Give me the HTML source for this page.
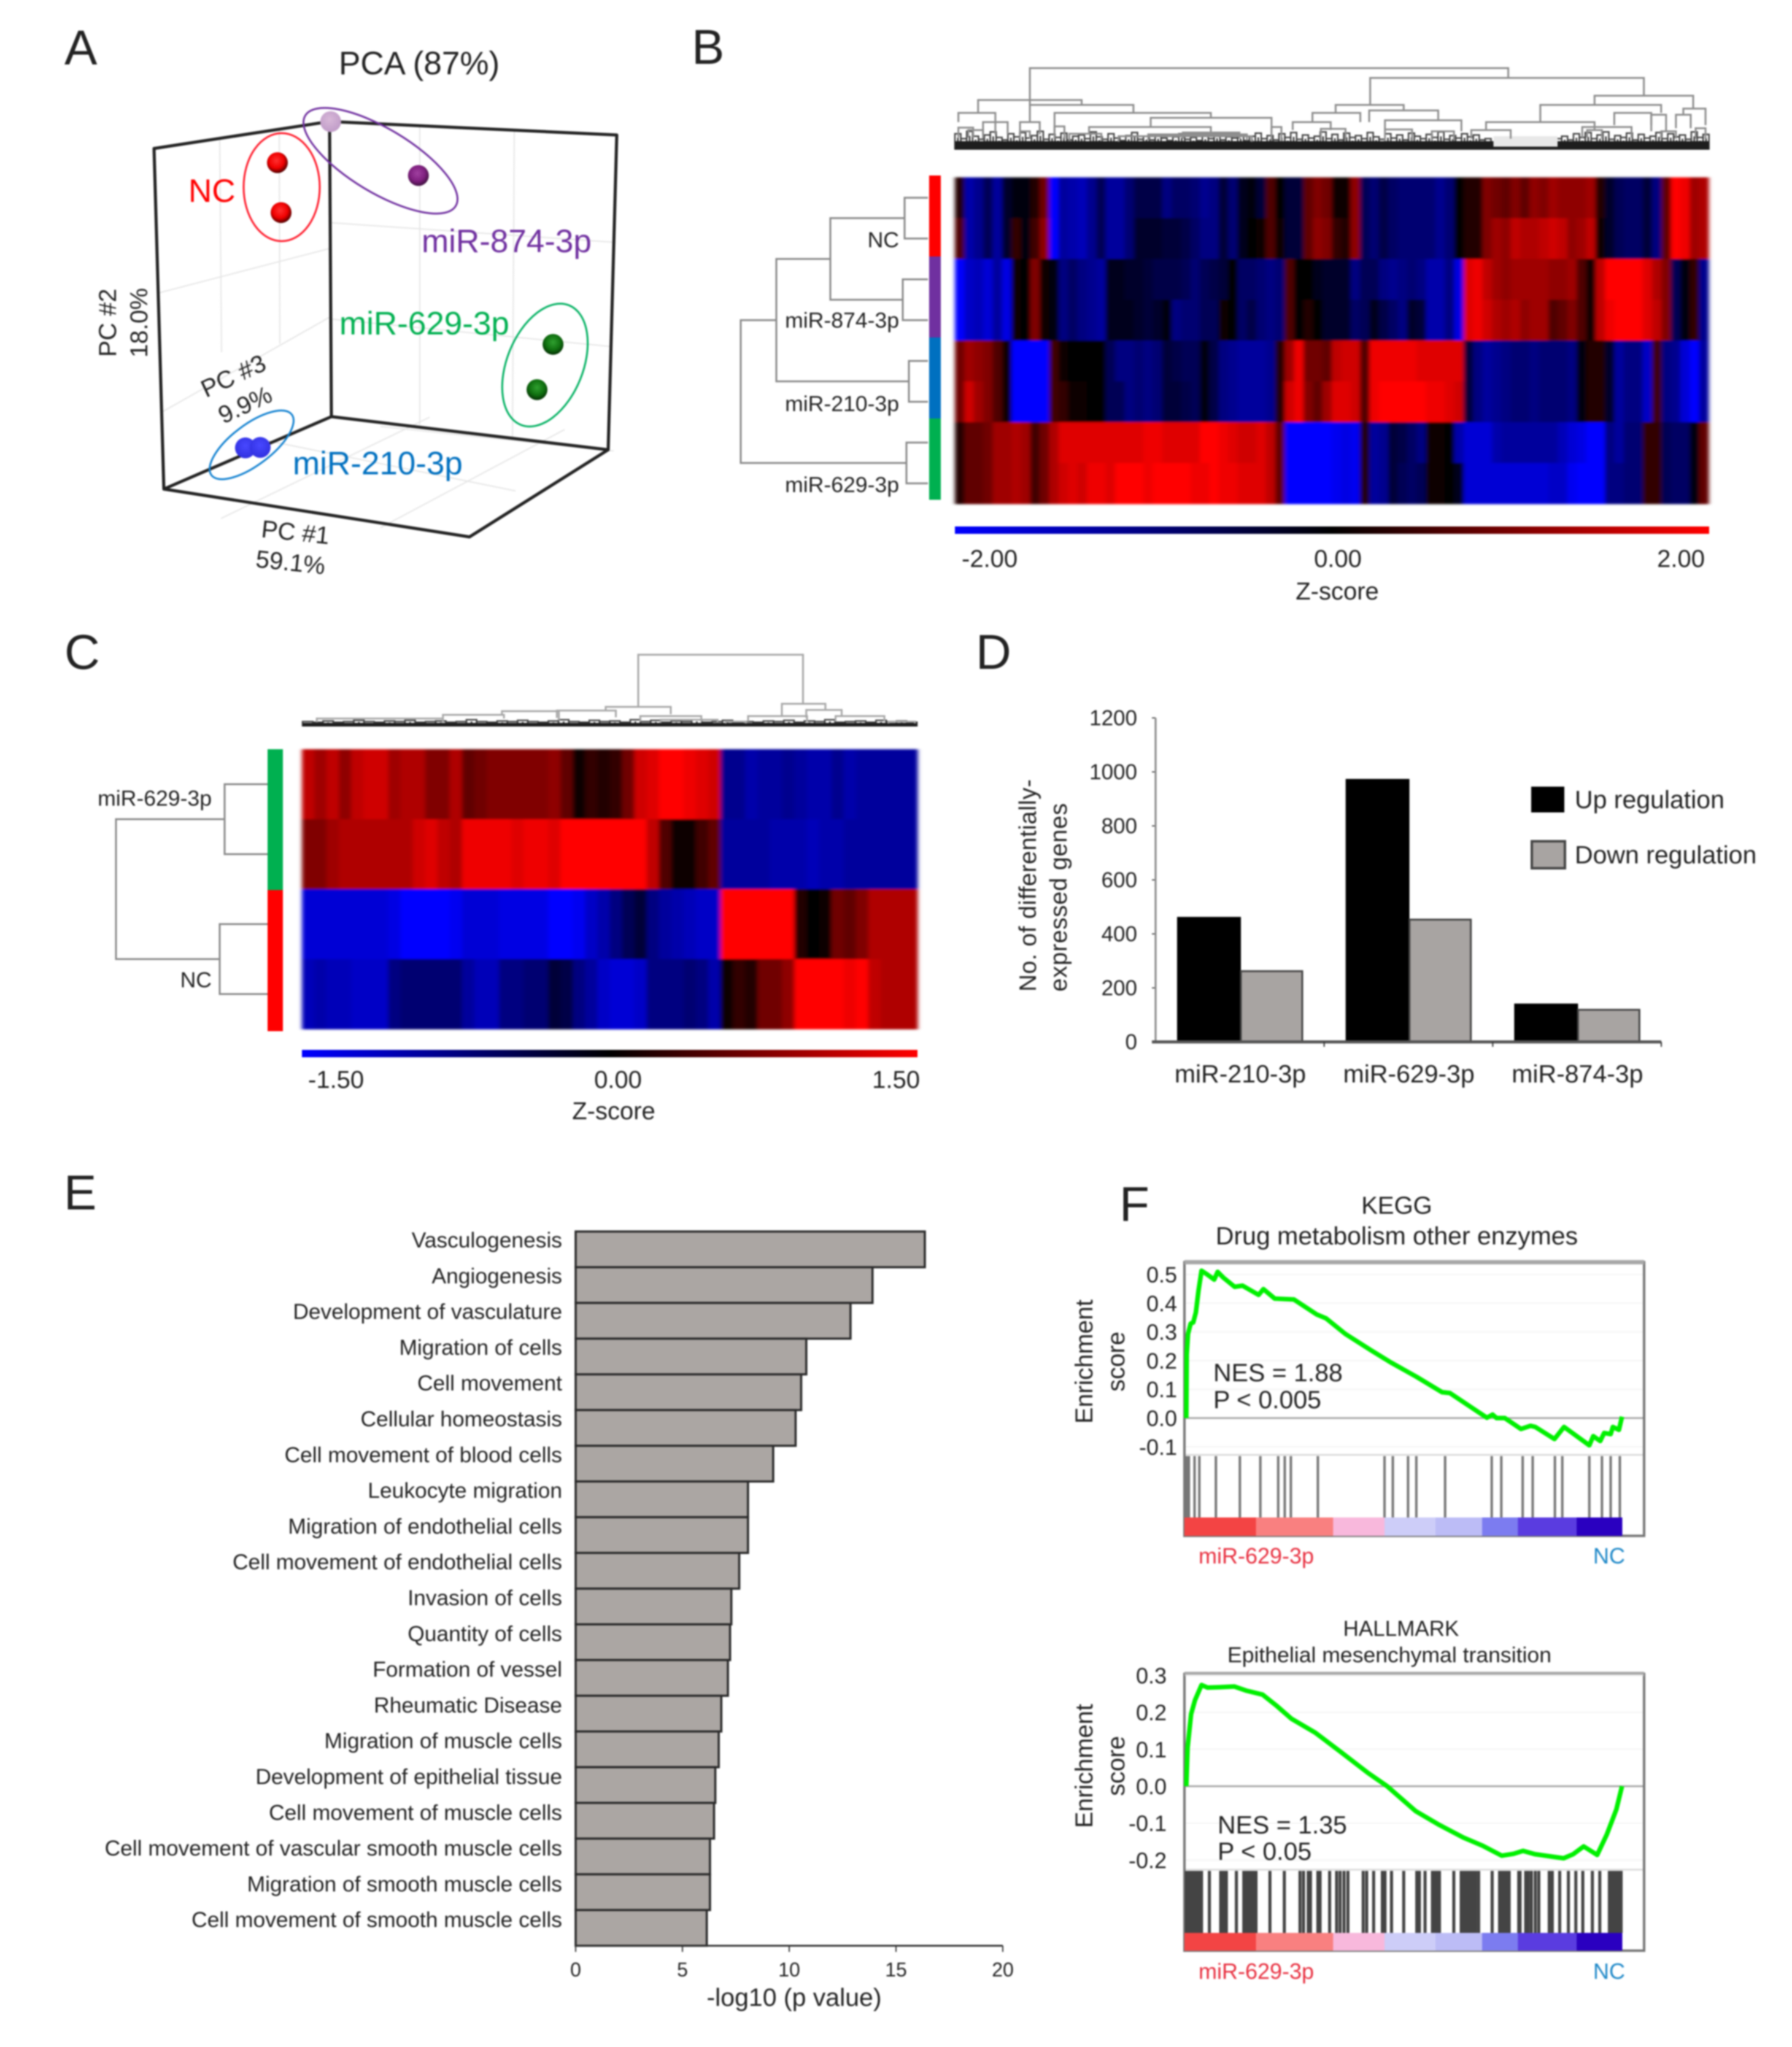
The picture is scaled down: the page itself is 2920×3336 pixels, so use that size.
<!DOCTYPE html>
<html lang="en">
<head>
<meta charset="utf-8">
<title>Multi-panel miRNA figure</title>
<style>
html,body{margin:0;padding:0;background:#fff}
#fig{display:block;filter:blur(1.4px)}
text{font-family:"Liberation Sans",Arial,sans-serif;fill:#222}
</style>
</head>
<body>
<svg id="fig" xmlns="http://www.w3.org/2000/svg" width="2920" height="3336" viewBox="0 0 2920 3336">
<defs>
<radialGradient id="s-red" cx="45%" cy="40%" r="60%"><stop offset="0" stop-color="#ff3030"/><stop offset=".6" stop-color="#f00000"/><stop offset="1" stop-color="#500000"/></radialGradient>
<radialGradient id="s-purple" cx="45%" cy="40%" r="60%"><stop offset="0" stop-color="#a040a0"/><stop offset=".6" stop-color="#802080"/><stop offset="1" stop-color="#401040"/></radialGradient>
<radialGradient id="s-lilac" cx="45%" cy="40%" r="60%"><stop offset="0" stop-color="#d8b8d8"/><stop offset="1" stop-color="#c09cc8"/></radialGradient>
<radialGradient id="s-green" cx="50%" cy="40%" r="60%"><stop offset="0" stop-color="#30a030"/><stop offset=".6" stop-color="#107010"/><stop offset="1" stop-color="#053005"/></radialGradient>
<radialGradient id="s-blue" cx="50%" cy="40%" r="60%"><stop offset="0" stop-color="#4848ff"/><stop offset="1" stop-color="#3030e0"/></radialGradient>
<linearGradient id="zbar"><stop offset="0" stop-color="#0000ff"/><stop offset=".5" stop-color="#000"/><stop offset="1" stop-color="#ff0000"/></linearGradient>
<filter id="heat-soften" x="-1%" y="-1%" width="102%" height="102%"><feGaussianBlur stdDeviation="3.5 1.5"/></filter>
</defs>

<!-- Panel letters -->
<text x="105" y="105" font-size="80">A</text>
<text x="1127" y="104" font-size="80">B</text>
<text x="105" y="1090" font-size="80">C</text>
<text x="1590" y="1090" font-size="80">D</text>
<text x="104" y="1971" font-size="80">E</text>
<text x="1824" y="1990" font-size="80">F</text>

<!-- Panel A frame -->
<g id="panel-a">
<g stroke="#e6e6e6" stroke-width="2" fill="none">
<path d="M358 224L361 574M455 208L456 560M260 477L537 405M263 672L537 517"/>
<path d="M684 206L684 692M838 212L835 715M540 363L1003 395M540 520L998 565"/>
<path d="M420 715L840 800M620 695L1000 735M360 845L700 680M620 860L920 700"/>
</g>
<g stroke="#222" stroke-width="5" fill="none" stroke-linejoin="round">
<path d="M251 242L537 198L1005 220L991 733L765 875L267 797Z"/>
<path d="M537 198L540 679L267 797M540 679L991 733"/>
</g>
<ellipse cx="459" cy="305" rx="62" ry="88" fill="none" stroke="#ff1a2a" stroke-width="3"/>
<ellipse cx="620" cy="262" rx="143" ry="52" transform="rotate(31 620 262)" fill="none" stroke="#7030a0" stroke-width="3"/>
<ellipse cx="888" cy="595" rx="62" ry="105" transform="rotate(22 888 595)" fill="none" stroke="#00b060" stroke-width="3"/>
<ellipse cx="410" cy="725" rx="82" ry="33" transform="rotate(-37 410 725)" fill="none" stroke="#1080d0" stroke-width="3"/>
<g id="pca-points"></g>
<text x="552" y="121" font-size="53">PCA (87%)</text>
<text x="307" y="329" font-size="53" style="fill:#ff0000">NC</text>
<text x="687" y="411" font-size="53" style="fill:#7030a0">miR-874-3p</text>
<text x="553" y="545" font-size="53" style="fill:#00b050">miR-629-3p</text>
<text x="477" y="773" font-size="53" style="fill:#0070c0">miR-210-3p</text>
<text transform="translate(189 526) rotate(-90)" text-anchor="middle" font-size="40">PC #2</text>
<text transform="translate(240 526) rotate(-90)" text-anchor="middle" font-size="40">18.0%</text>
<text transform="translate(386 625) rotate(-25)" text-anchor="middle" font-size="40">PC #3</text>
<text transform="translate(405 672) rotate(-25)" text-anchor="middle" font-size="40">9.9%</text>
<text transform="translate(480 881) rotate(6)" text-anchor="middle" font-size="40">PC #1</text>
<text transform="translate(472 930) rotate(6)" text-anchor="middle" font-size="40">59.1%</text>
</g>

<!-- Panel B -->
<g id="panel-b">
<g id="b-dendro-top"></g>
<g id="b-dendro-left"></g>
<g id="b-side"></g>
<g id="b-cells" filter="url(#heat-soften)"></g>
<text x="1465" y="403" text-anchor="end" font-size="35.6">NC</text>
<text x="1465" y="534" text-anchor="end" font-size="35.6">miR-874-3p</text>
<text x="1465" y="670" text-anchor="end" font-size="35.6">miR-210-3p</text>
<text x="1465" y="802" text-anchor="end" font-size="35.6">miR-629-3p</text>
<rect x="1556" y="858" width="1229" height="12" fill="url(#zbar)"/>
<text x="1567" y="924" font-size="40">-2.00</text>
<text x="2180" y="924" text-anchor="middle" font-size="40">0.00</text>
<text x="2778" y="924" text-anchor="end" font-size="40">2.00</text>
<text x="2179" y="977" text-anchor="middle" font-size="40">Z-score</text>
</g>

<!-- Panel C -->
<g id="panel-c">
<g id="c-dendro-top"></g>
<g id="c-dendro-left"></g>
<g id="c-side"></g>
<g id="c-cells" filter="url(#heat-soften)"></g>
<text x="345" y="1313" text-anchor="end" font-size="35.6">miR-629-3p</text>
<text x="345" y="1609" text-anchor="end" font-size="35.6">NC</text>
<rect x="492" y="1711" width="1003" height="12" fill="url(#zbar)"/>
<text x="502" y="1773" font-size="40">-1.50</text>
<text x="1007" y="1773" text-anchor="middle" font-size="40">0.00</text>
<text x="1499" y="1773" text-anchor="end" font-size="40">1.50</text>
<text x="1000" y="1824" text-anchor="middle" font-size="40">Z-score</text>
</g>

<!-- Panel D -->
<g id="panel-d">
<g id="d-plot"></g>
<text transform="translate(1688 1616) rotate(-90)" font-size="39" textLength="346" lengthAdjust="spacing">No. of differentially-</text>
<text transform="translate(1738 1616) rotate(-90)" font-size="39" textLength="307" lengthAdjust="spacing">expressed genes</text>
<rect x="2495" y="1282" width="54" height="42" fill="#000"/>
<text x="2566" y="1317" font-size="41">Up regulation</text>
<rect x="2496" y="1371" width="54" height="44" fill="#a8a4a2" stroke="#444" stroke-width="4"/>
<text x="2566" y="1407" font-size="41">Down regulation</text>
</g>

<!-- Panel E -->
<g id="panel-e">
<g id="e-plot"></g>
<text x="1294" y="3269" text-anchor="middle" font-size="41" textLength="285" lengthAdjust="spacing">-log10 (p value)</text>
</g>

<!-- Panel F -->
<g id="panel-f1">
<text x="2276" y="1978" text-anchor="middle" font-size="40">KEGG</text>
<text x="2276" y="2028" text-anchor="middle" font-size="41">Drug metabolism other enzymes</text>
<g id="f1-plot"></g>
<text transform="translate(1780 2219) rotate(-90)" text-anchor="middle" font-size="40">Enrichment</text>
<text transform="translate(1832 2219) rotate(-90)" text-anchor="middle" font-size="40">score</text>
<text x="1977" y="2251" font-size="41">NES = 1.88</text>
<text x="1977" y="2295" font-size="41">P &lt; 0.005</text>
<text x="1953" y="2548" font-size="36" style="fill:#e83040">miR-629-3p</text>
<text x="2596" y="2548" font-size="36" style="fill:#1e88c8">NC</text>
</g>
<g id="panel-f2">
<text x="2283" y="2666" text-anchor="middle" font-size="35">HALLMARK</text>
<text x="2264" y="2709" text-anchor="middle" font-size="35.6">Epithelial mesenchymal transition</text>
<g id="f2-plot"></g>
<text transform="translate(1780 2878) rotate(-90)" text-anchor="middle" font-size="40">Enrichment</text>
<text transform="translate(1832 2878) rotate(-90)" text-anchor="middle" font-size="40">score</text>
<text x="1984" y="2988" font-size="41">NES = 1.35</text>
<text x="1984" y="3031" font-size="41">P &lt; 0.05</text>
<text x="1953" y="3225" font-size="36" style="fill:#e83040">miR-629-3p</text>
<text x="2596" y="3225" font-size="36" style="fill:#1e88c8">NC</text>
</g>
</svg>

<script>
/* ---------- Panel A data: principal components (fraction of axis) ---------- */
const pcaPc1 = [0.004, 0.32, 0, 0, 0.803, 0.744, 0, 0];
const pcaPc2 = [1.0, 0.853, 0.937, 0.763, 0.335, 0.175, 0.02, 0];
const pcaPc3 = [0, 0, 0.312, 0.292, 0, 0, 0.513, 0.425];
const pcaFill = ['s-lilac', 's-purple', 's-red', 's-red', 's-green', 's-green', 's-blue', 's-blue'];

/* ---------- Panel B data: expression per column, ±20 = colour-bar end ---------- */
const heatBNc1 = [2,-12,-10,-6,-11,-3,-1,-1,2,7,-18,-11,-12,-13,-10,-6,-11,-11,-8,-5,-5,-5,-9,-7,-7,-8,-10,-9,-4,-8,-2,-1,-4,5,0,-4,-4,6,8,7,1,1,9,-6,-8,-5,-7,-8,-8,-8,-8,-10,-8,0,2,2,8,7,6,8,6,9,8,10,9,9,9,10,2,-3,-6,-7,-7,-4,-9,6,17,15,10,11];
const heatBNc2 = [5,-12,-10,-6,-11,-3,3,-1,4,9,-18,-11,-12,-13,-10,-6,-11,-11,-8,-3,-3,-3,-4,-4,-5,-7,-9,-9,-4,-8,-2,0,1,5,1,-4,-4,6,9,8,3,2,9,-6,-8,-5,-7,-8,-8,-8,-8,-10,-8,0,2,2,8,10,9,12,11,11,12,13,12,9,10,12,1,-3,-6,-7,-7,-4,-9,6,17,15,10,11];
const heatB8741 = [-20,-14,-13,-15,-11,-16,1,0,8,1,-1,-9,-7,-9,-10,-11,-2,-2,-3,-3,-4,-5,-5,-5,-6,-8,-6,-5,-4,0,-7,-7,-8,-9,-8,5,0,0,-2,-3,-3,-3,-9,-6,-6,-9,-10,-9,-8,-9,-12,-12,-9,-16,14,15,12,10,9,10,10,10,10,9,9,10,5,1,12,16,16,17,18,14,11,8,-6,-1,3,-10];
const heatB8742 = [-20,-14,-13,-15,-11,-16,1,0,8,1,-1,-9,-7,-9,-10,-11,-2,-2,-2,-3,-4,-3,-1,-9,-8,-8,-6,-6,1,0,-7,-5,-8,-9,-8,5,0,2,0,-3,-3,-3,-7,-6,-2,-5,-7,-9,-3,-4,-12,-12,-9,-16,14,15,13,11,10,11,9,10,10,5,6,8,5,1,12,15,16,19,17,14,12,8,-6,-1,3,-10];
const heatB2101 = [7,10,9,8,5,1,-19,-20,-20,-20,4,1,0,0,0,0,-6,-9,-9,-8,-9,-8,-4,-5,-6,-6,-1,-5,-9,-10,-11,-11,-11,-10,2,10,15,7,7,6,12,13,13,5,15,15,15,15,15,14,14,14,14,14,-4,-9,-11,-10,-9,-8,-8,-9,-8,-8,-8,-9,-1,2,2,-3,-11,-9,-9,-14,4,-9,-10,-15,-19,-11];
const heatB2102 = [7,13,10,8,5,1,-19,-20,-20,-20,4,3,1,1,0,0,-6,-6,-9,-8,-9,-8,-4,-4,-5,-6,-1,-5,-9,-10,-11,-11,-11,-10,2,13,15,8,6,10,14,14,13,5,15,18,16,16,17,17,15,15,14,13,-4,-9,-11,-10,-9,-8,-8,-9,-8,-8,-8,-9,-1,2,2,-3,-11,-9,-9,-14,4,-9,-10,-15,-19,-11];
const heatB6291 = [2,6,6,7,10,10,11,10,4,7,11,14,14,14,14,14,14,14,14,14,15,15,14,14,14,14,16,18,15,14,13,13,14,12,6,-20,-20,-19,-19,-19,-17,-16,-17,2,-11,-10,-4,-5,-7,-9,1,1,0,-12,-15,-15,-15,-12,-11,-11,-11,-11,-11,-11,-13,-15,-16,-18,-20,-9,-11,-8,-8,3,3,-6,-7,-7,-1,6];
const heatB6292 = [2,6,6,7,10,10,11,10,4,7,11,13,14,13,15,15,14,16,18,16,15,17,18,18,19,15,15,17,15,15,14,14,14,12,6,-20,-20,-19,-19,-19,-17,-16,-17,2,-11,-10,-4,-6,-7,-6,1,1,0,-2,-15,-15,-15,-15,-15,-15,-15,-15,-15,-14,-14,-17,-18,-18,-18,-9,-9,-8,-8,3,3,-6,-7,-7,-1,6];
const heatBRows = [heatBNc1, heatBNc2, heatB8741, heatB8742, heatB2101, heatB2102, heatB6291, heatB6292];
const sideBColors = ['#ff0000', '#7030a0', '#0070c0', '#00b050'];

/* merges: [left node, right node, distance]; nodes 0-7 are rows, 8+ are earlier merges */
const rowMergesB = [[0,1,38],[2,3,41],[4,5,31],[6,7,35],[8,9,159],[12,10,247],[13,11,305]];

/* column dendrogram links: [left leaf, right leaf, height, left arm end, right arm end] */
const colLinksB = [[152,1122,133,73,117],[842,1397,117,73,88],[47,257,81,60,73],[152,362,73,45,60],[202,519,60,27,52],[397,642,52,37,20],[272,519,37,25,28],[7,82,60,45,25],[57,107,45,25,25],[132,172,45,25,25],[772,910,73,60,64],[725,822,60,45,45],[840,980,64,45,48],[685,762,45,32,32],[872,1027,48,33,30],[1187,1432,73,45,60],[1297,1497,88,73,67],[1077,1297,45,32,33],[1337,1412,60,40,40],[1477,1522,67,57,40],[1462,1492,57,35,35],[1047,1127,32,18,18],[1272,1372,37,20,20],[1412,1442,57,30,30],[462,577,28,18,18],[392,592,25,15,15],[332,602,22,13,13],[232,297,26,14,14],[742,792,34,15,15],[872,927,33,14,14],[967,1012,30,14,14],[642,662,37,14,14],[7,37,36,20,20],[27,57,32,20,18],[132,152,30,18,18],[202,222,38,18,18],[1282,1312,32,20,18],[1432,1462,30,18,18],[1502,1522,35,18,18]];
const leafHeightsB = [26,18,30,22,17,24,29,20,16,26,21,28,19,23,30,17,25,20,27,16,22,24,18,29,21,17,26,19,15,23,28,17,22,16,24,19,15,21,26,17,20,15,23,18,25,16,21,19,24,15,22,27,18,23,16,26,20,28,17,24,19,22,29,18,25,16,27,20,23,18,28,21,17,26,19,24,16,27,22,18,25,20,29,17,23,19,26,21,24,16,18,10,9,9,8,8,10,9,8,9,12,14,18,22,16,26,20,28,18,24,29,17,23,20,27,16,25,19,22,28,18,26,21,24,17,29,20,25];
const leafHoleB = [1092, 1222];

/* ---------- Panel C data ---------- */
const heatCMir1 = [12,10,12,9,12,13,13,10,11,11,8,8,11,6,7,8,8,8,8,8,9,6,1,3,2,3,7,13,14,19,20,15,14,13,-10,-10,-12,-11,-11,-10,-11,-12,-12,-10,-12,-11,-11,-11,-11,-11];
const heatCMir2 = [8,8,10,11,11,11,11,11,11,13,14,12,11,15,15,15,15,14,15,15,14,19,20,19,18,18,18,16,12,5,1,1,4,6,-11,-11,-11,-11,-12,-12,-12,-13,-12,-12,-11,-11,-11,-11,-11,-11];
const heatCNc1 = [-15,-15,-15,-15,-15,-15,-15,-16,-18,-18,-19,-18,-17,-15,-15,-15,-16,-16,-16,-16,-19,-20,-17,-14,-12,-9,-6,-4,-9,-11,-12,-13,-14,-14,20,20,20,18,18,17,2,0,1,7,6,8,11,11,11,11];
const heatCNc2 = [-13,-12,-13,-13,-14,-14,-14,-9,-8,-8,-8,-8,-8,-11,-13,-13,-9,-9,-8,-8,-4,-5,-9,-11,-14,-15,-15,-14,-9,-9,-9,-8,-9,-12,1,3,2,7,7,9,18,20,20,18,15,16,12,11,11,11];
const heatCRows = [heatCMir1, heatCMir2, heatCNc1, heatCNc2];
const sideCColors = ['#00b050', '#ff0000'];
const rowMergesC = [[0,1,70],[2,3,78],[4,5,247]];
const colLinksC = [[825,1230,117,32,37],[745,905,32,26,20],[625,770,26,14,15],[490,630,25,19,10],[345,495,19,13,13],[35,345,13,7,7],[1178,1285,37,17,27],[1095,1240,17,8,8],[1238,1325,27,14,17],[1310,1430,17,8,8],[830,980,17,8,8],[880,1020,11,6,6],[1040,1090,8,5,5],[1440,1505,8,5,5]];
const leafHeightsC = [8,7,9,7,8,10,8,7,9,8,10,7,8,9,7,8,11,8,7,9,8,10,8,7,9,11,8,7,10,8,9,7,11,8,10,7,9,8,11,7,8,10,7,8,7,9,8,10,7,9,8,11,7,8,9,7,10,8,9,7];

/* ---------- Panel D data ---------- */
const degCategories = ['miR-210-3p', 'miR-629-3p', 'miR-874-3p'];
const degUp = [463, 974, 142];
const degDown = [262, 453, 119];
const degTicks = [0, 200, 400, 600, 800, 1000, 1200];

/* ---------- Panel E data ---------- */
const pathwayNames = ['Vasculogenesis','Angiogenesis','Development of vasculature','Migration of cells','Cell movement','Cellular homeostasis','Cell movement of blood cells','Leukocyte migration','Migration of endothelial cells','Cell movement of endothelial cells','Invasion of cells','Quantity of cells','Formation of vessel','Rheumatic Disease','Migration of muscle cells','Development of epithelial tissue','Cell movement of muscle cells','Cell movement of vascular smooth muscle cells','Migration of smooth muscle cells','Cell movement of smooth muscle cells'];
const pathwayValues = [16.35,13.9,12.87,10.8,10.56,10.3,9.25,8.07,8.07,7.66,7.29,7.23,7.13,6.82,6.7,6.54,6.48,6.29,6.29,6.14];
const pathwayTicks = [0, 5, 10, 15, 20];

/* ---------- Panel F data ---------- */
const keggRank = [0,.001,.004,.01,.016,.022,.028,.035,.048,.064,.072,.085,.111,.129,.166,.177,.203,.247,.299,.321,.365,.424,.469,.528,.587,.605,.69,.703,.712,.731,.768,.79,.801,.845,.867,.925,.934,.95,.959,.974,.979,.993,1];
const keggEs = [0,.222,.293,.329,.333,.368,.443,.513,.5,.482,.509,.489,.457,.461,.429,.449,.416,.413,.361,.347,.293,.236,.194,.144,.09,.087,.001,.012,0,0,-.038,-.027,-.031,-.073,-.031,-.095,-.063,-.08,-.052,-.056,-.031,-.041,.005];
const keggHits = [0,2,4,6,19,30,68,123,170,211,226,240,302,455,474,509,528,594,701,723,772,795,846,863,925,954,974,995];
const keggTicks = [0.5,0.4,0.3,0.2,0.1,0,-0.1];
const hallRank = [0,.003,.011,.02,.035,.049,.077,.11,.137,.175,.208,.241,.296,.351,.417,.461,.526,.581,.636,.68,.724,.751,.773,.8,.866,.888,.912,.943,.965,.987,1];
const hallEs = [0,.104,.195,.233,.274,.267,.268,.27,.259,.248,.217,.183,.145,.096,.036,0,-.067,-.105,-.139,-.161,-.188,-.183,-.175,-.184,-.195,-.184,-.163,-.186,-.131,-.063,0];
const hallHits = [0,4,9,13,18,22,26,31,35,53,79,83,88,92,115,132,137,143,149,155,160,192,225,261,269,280,285,302,307,329,345,353,362,371,406,414,430,450,456,471,499,529,535,548,565,570,576,581,614,631,636,642,647,653,658,664,671,702,719,724,730,735,741,763,766,779,785,792,801,809,833,840,857,877,894,910,932,949,971,976,982,987,993,998];
const hallTicks = [0.3,0.2,0.1,0,-0.1,-0.2];
const rampStops = [0,.16,.337,.455,.572,.679,.761,.896,1];
const rampColors = ['#f34444','#f66060','#f98080','#f8b8dc','#cdcdf8','#bcbcf6','#7c7cf0','#5a3ce0','#2a00c0'];

/* ---------- Helpers ---------- */
const NS = 'http://www.w3.org/2000/svg';
function add(parent, tag, props, text) {
  const e = document.createElementNS(NS, tag);
  for (const k in props) e.setAttribute(k, props[k]);
  if (text !== undefined) e.textContent = text;
  parent.appendChild(e);
  return e;
}
const $ = id => document.getElementById(id);
function heatColor(v) {
  if (v >= 0) {
    return `rgb(${Math.round(Math.min(1, v / 16) * 255)},0,0)`;
  }
  return `rgb(0,0,${Math.round(Math.min(1, -v / 18) * 255)})`;
}

/* ---------- Panel A ---------- */
(function () {
  const ox = 540, oy = 679;
  const projX = (a, b, c) => ox + 451 * a - 3 * b - 273 * c;
  const projY = (a, b, c) => oy + 54 * a - 481 * b + 118 * c;
  pcaPc1.forEach((a, i) => {
    const dot = add($('pca-points'), 'circle', {
      cx: projX(a, pcaPc2[i], pcaPc3[i]),
      cy: projY(a, pcaPc2[i], pcaPc3[i]),
      r: 17,
      fill: `url(#${pcaFill[i]})`
    });
    
    
  });
})();

/* ---------- Heatmaps ---------- */
function drawHeat(gId, rows, x0, y0, w, h) {
  const cols = rows[0].length, cw = w / cols, rh = h / rows.length;
  rows.forEach((row, r) => row.forEach((v, c) => {
    const cell = add($(gId), 'rect', {
      x: x0 + c * cw,
      y: y0 + r * rh,
      width: cw + 0.6,
      height: rh + 0.6,
      fill: heatColor(v)
    });
    
    
  }));
}
drawHeat('b-cells', heatBRows, 1556, 289, 1228, 532);
drawHeat('c-cells', heatCRows, 492, 1221, 1003, 456);

function drawSide(gId, colors, x, y, w, h) {
  colors.forEach((col, i) => {
    const seg = add($(gId), 'rect', { x: x, y: y + i * h / colors.length, width: w, height: h / colors.length + 0.5, fill: col });
    
    
  });
}
drawSide('b-side', sideBColors, 1514, 286, 19, 528);
drawSide('c-side', sideCColors, 436, 1221, 25, 459);

/* row dendrograms */
function drawRowTree(gId, merges, nRows, y0, rowH, xLeaf) {
  const pos = [], dist = [];
  for (let i = 0; i < nRows; i++) { pos.push(y0 + (i + .5) * rowH); dist.push(0); }
  merges.forEach(m => {
    const [a, b, d] = m;
    const x = xLeaf - d;
    const link = add($(gId), 'path', {
      d: `M${xLeaf - dist[a]} ${pos[a]}H${x}V${pos[b]}H${xLeaf - dist[b]}`,
      fill: 'none', stroke: '#8a8a8a', 'stroke-width': 3
    });
    
    
    pos.push((pos[a] + pos[b]) / 2);
    dist.push(d);
  });
}
drawRowTree('b-dendro-left', rowMergesB, 8, 289, 66.5, 1512);
drawRowTree('c-dendro-left', rowMergesC, 4, 1221, 114, 436);

/* column dendrograms */
function drawColTree(gId, links, leaves, hole, xLeft, scaleX, yBase, bandH, color) {
  const g = $(gId);
  const sx = p => xLeft + p * scaleX;
  const sy = h => yBase - h;
  const unit = (leaves.span) / leaves.values.length;
  leaves.values.forEach((h, i) => {
    const p = i * unit;
    const tooth = add(g, 'path', {
      d: `M${sx(p)} ${sy(0)}V${sy(h)}H${sx(p + unit)}V${sy(0)}`,
      fill: 'none', stroke: '#444', 'stroke-width': 2.5
    });
    
    
    const inner = add(g, 'line', {
      x1: sx(p + unit / 2), x2: sx(p + unit / 2), y1: sy(0), y2: sy(h * 0.75),
      stroke: '#333', 'stroke-width': 2.5
    });
    
    
  });
  const band = add(g, 'rect', { x: sx(0), y: sy(bandH), width: leaves.span * scaleX, height: bandH, fill: '#1e1e1e' });
  
  
  if (hole) {
    const gap = add(g, 'rect', { x: sx(hole[0]), y: sy(bandH + 8), width: (hole[1] - hole[0]) * scaleX, height: bandH + 3, fill: '#e8e8e8' });
    
    
  }
  links.forEach(L => {
    const [a, b, h, ha, hb] = L;
    const link = add(g, 'path', {
      d: `M${sx(a)} ${sy(ha)}V${sy(h)}H${sx(b)}V${sy(hb)}`,
      fill: 'none', stroke: color, 'stroke-width': 3
    });
    
    
  });
}
drawColTree('b-dendro-top', colLinksB, { values: leafHeightsB, span: 1529 }, leafHoleB, 1556, 0.8036, 244, 14, '#8e8e8e');
drawColTree('c-dendro-top', colLinksC, { values: leafHeightsC, span: 1510 }, null, 493, 0.663, 1184, 6, '#a8a8a8');

/* ---------- Panel D ---------- */
(function () {
  const g = $('d-plot');
  const x0 = 1883, x1 = 2707, y0 = 1698, pxPerUnit = 528 / 1200;
  const sy = v => y0 - v * pxPerUnit;
  const band = (x1 - x0) / degCategories.length;
  degCategories.forEach((name, i) => {
    const xs = x0 + i * band;
    const up = add(g, 'rect', { x: xs + 35, y: sy(degUp[i]), width: 104, height: y0 - sy(degUp[i]), fill: '#000' });
    
    
    const down = add(g, 'rect', { x: xs + 139, y: sy(degDown[i]), width: 100, height: y0 - sy(degDown[i]), fill: '#a8a4a2', stroke: '#444', 'stroke-width': 3 });
    
    
    const lab = add(g, 'text', { x: xs + 138, y: 1764, 'text-anchor': 'middle', 'font-size': 41 }, name);
    
    
  });
  degTicks.forEach(t => {
    const lab = add(g, 'text', { x: 1853, y: sy(t) + 12, 'text-anchor': 'end', 'font-size': 35 }, String(t));
    
    
    const tk = add(g, 'line', { x1: x0 - 6, x2: x0, y1: sy(t), y2: sy(t), stroke: '#555', 'stroke-width': 2 });
    
    
  });
  const yAxis = add(g, 'line', { x1: x0, x2: x0, y1: sy(1200), y2: y0, stroke: '#888', 'stroke-width': 3 });
  
  
  const xAxis = add(g, 'line', { x1: x0 - 6, x2: x1, y1: y0, y2: y0, stroke: '#555', 'stroke-width': 5 });
  
  
  for (let i = 1; i <= degCategories.length; i++) {
    const tk = add(g, 'line', { x1: x0 + i * band, x2: x0 + i * band, y1: y0, y2: y0 + 8, stroke: '#333', 'stroke-width': 2 });
    
    
  }
})();

/* ---------- Panel E ---------- */
(function () {
  const g = $('e-plot');
  const x0 = 938, pxPerUnit = 34.8, yTop = 2007, barH = 58.2;
  const sx = v => x0 + v * pxPerUnit;
  pathwayNames.forEach((name, i) => {
    const bar = add(g, 'rect', { x: x0, y: yTop + i * barH, width: sx(pathwayValues[i]) - x0, height: barH, fill: '#aba6a3', stroke: '#2a2a2a', 'stroke-width': 3.5 });
    
    
    const lab = add(g, 'text', { x: 916, y: 2033 + i * 58.3, 'text-anchor': 'end', 'font-size': 35.4 }, name);
    
    
  });
  const axis = add(g, 'line', { x1: x0, x2: sx(20), y1: 3171, y2: 3171, stroke: '#333', 'stroke-width': 3 });
  
  
  pathwayTicks.forEach(t => {
    const tk = add(g, 'line', { x1: sx(t), x2: sx(t), y1: 3171, y2: 3181, stroke: '#333', 'stroke-width': 2 });
    
    
    const lab = add(g, 'text', { x: sx(t), y: 3221, 'text-anchor': 'middle', 'font-size': 32 }, String(t));
    
    
  });
})();

/* ---------- Panel F ---------- */
function drawGsea(gId, rank, es, hits, ticks, o) {
  const g = $(gId);
  const sx = r => 1933 + r * 710;
  const sy = v => o.zeroY - v * o.pxPerUnit;
  const frame = add(g, 'rect', { x: 1930, y: o.top, width: 749, height: o.bottom - o.top, fill: '#fff', stroke: '#777', 'stroke-width': 4 });
  
  
  const topEdge = add(g, 'line', { x1: 1930, x2: 2679, y1: o.top, y2: o.top, stroke: '#a8a8a8', 'stroke-width': 7 });
  
  
  ticks.forEach(t => {
    const grid = add(g, 'line', { x1: 1932, x2: 2677, y1: sy(t), y2: sy(t), stroke: t === 0 ? '#aaa' : '#f4f4f4', 'stroke-width': t === 0 ? 3 : 2 });
    
    
    const lab = add(g, 'text', { x: o.tickRight, y: sy(t) + 13, 'text-anchor': 'end', 'font-size': 36 }, t.toFixed(1));
    
    
  });
  const sep = add(g, 'line', { x1: 1932, x2: 2677, y1: o.hitTop - 2, y2: o.hitTop - 2, stroke: '#ddd', 'stroke-width': 3 });
  
  
  hits.forEach(h => {
    const tk = add(g, 'line', { x1: sx(h / 1000), x2: sx(h / 1000), y1: o.hitTop, y2: o.rampTop, stroke: o.hitColor, 'stroke-width': o.hitWidth });
    
    
  });
  rampColors.slice(0, -1).forEach((c, i) => {
    const seg = add(g, 'rect', { x: sx(rampStops[i]) - (i === 0 ? 3 : 0), y: o.rampTop, width: sx(rampStops[i + 1]) - sx(rampStops[i]) + (i === 0 ? 3 : 0) + 0.5, height: o.bottom - o.rampTop, fill: rampColors[i + 1 === 1 ? 0 : i + 1] });
    
    
  });
  const pts = rank.map((r, i) => sx(r) + ',' + sy(es[i])).join(' ');
  const curve = add(g, 'polyline', { points: pts, fill: 'none', stroke: '#00f000', 'stroke-width': 7.5, 'stroke-linejoin': 'round' });
  
  
}
drawGsea('f1-plot', keggRank, keggEs, keggHits, keggTicks, { top: 2057, bottom: 2503, zeroY: 2311, pxPerUnit: 468, tickRight: 1918, hitTop: 2373, rampTop: 2473, hitWidth: 4, hitColor: '#777' });
drawGsea('f2-plot', hallRank, hallEs, hallHits, hallTicks, { top: 2728, bottom: 3179, zeroY: 2911, pxPerUnit: 602, tickRight: 1901, hitTop: 3049, rampTop: 3150, hitWidth: 5, hitColor: '#444' });
</script>
</body>
</html>
